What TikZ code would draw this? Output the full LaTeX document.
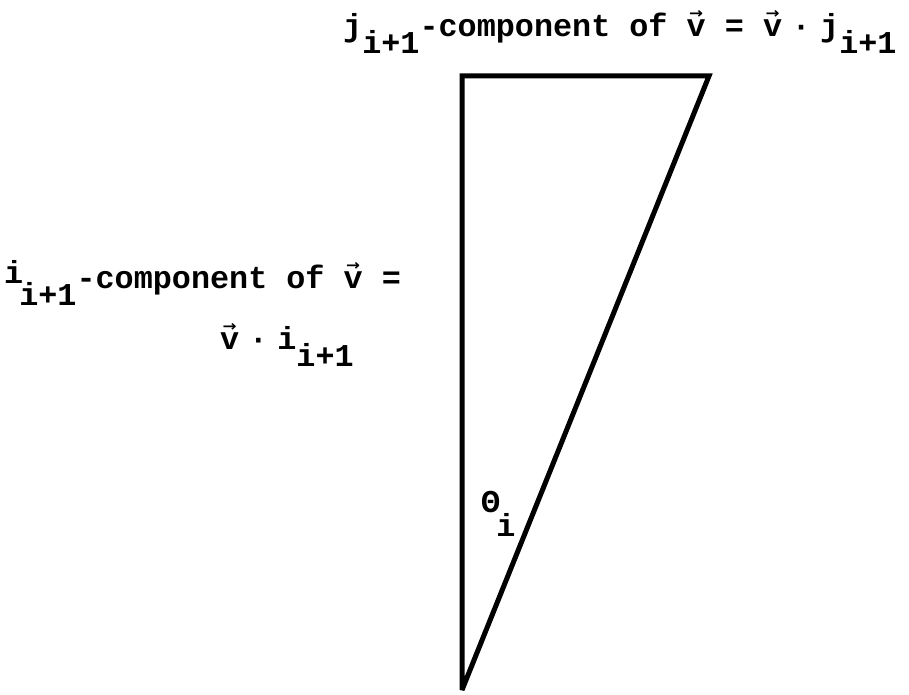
\documentclass[tikz,border=0pt]{standalone}
\usepackage{fontspec}
\usepackage{graphicx}
\setmonofont{Liberation Mono}
\newfontfamily\arrfont{DejaVu Sans}
\newcommand{\vv}{\makebox[0pt][l]{\hspace{2.5pt}\raisebox{18.5pt}{\resizebox{14pt}{8pt}{\arrfont\bfseries →}}}v}
\newcommand{\sub}[1]{\raisebox{-17pt}{#1}}
\newcommand{\hs}{\hspace{9.5pt}}
\begin{document}
\begin{tikzpicture}[x=1pt,y=1pt,
  lbl/.style={anchor=base west, inner sep=0pt, font=\ttfamily\bfseries\fontsize{31.8}{36}\selectfont},
  edge/.style={line width=5pt, line join=miter, miter limit=2}]
\useasboundingbox (0,0) rectangle (909,695);
\coordinate (A) at (462,619);
\coordinate (B) at (709,619);
\coordinate (C) at (462,5);
\draw[edge] (A) -- (B) -- (C) -- cycle;
\node[lbl] (top) at (343,658) {j\sub{i+1}-component of \vv{} = \vv{}\hs·\hs j\sub{i+1}};
\node[lbl] (left1) at (4,406) {\raisebox{5pt}{i}\hspace{-4pt}\sub{i+1}-component of \vv{} =};
\node[lbl] (left2) at (220,345) {\vv{}\hs·\hs i\sub{i+1}};
\node[lbl] (theta) at (481,182) {Θ\hspace{-4pt}\raisebox{-24pt}{i}};
\end{tikzpicture}
\end{document}
